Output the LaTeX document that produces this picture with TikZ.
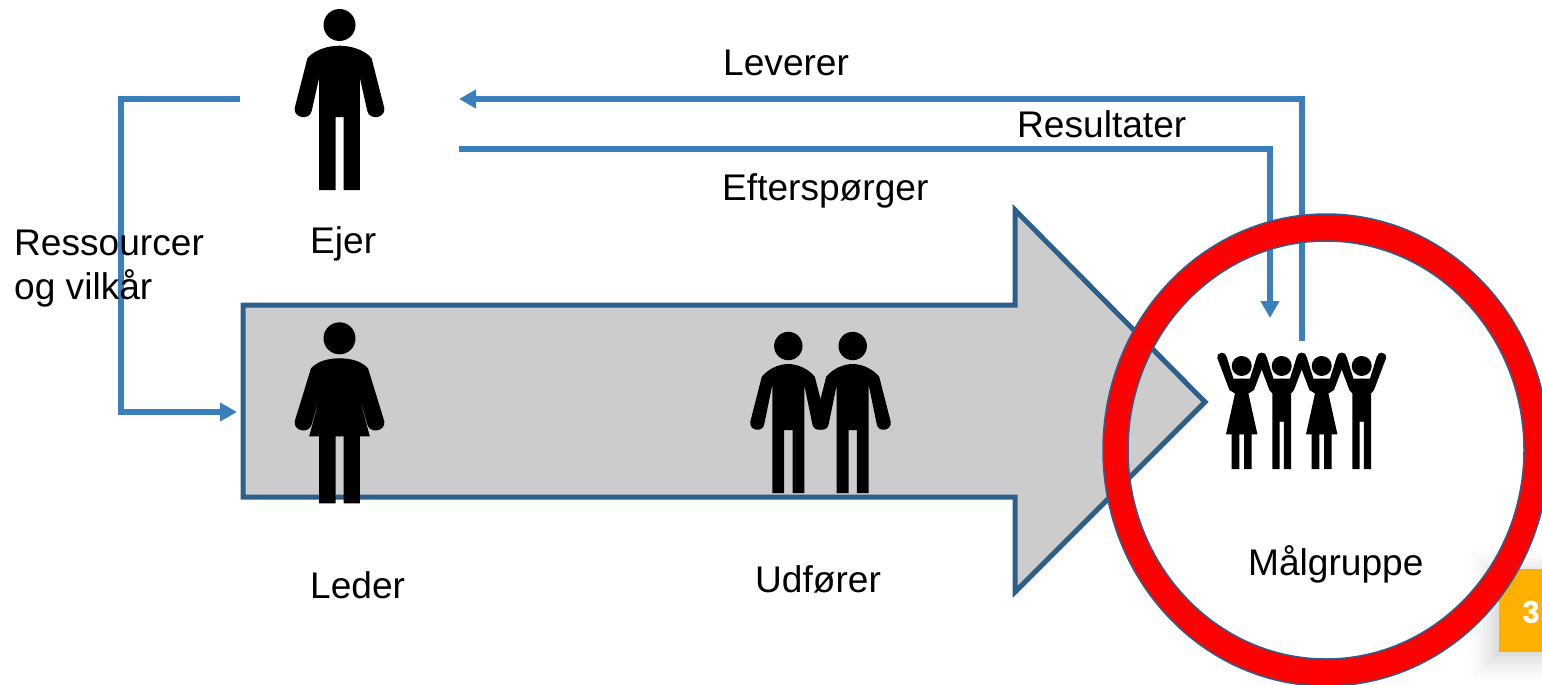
\documentclass[tikz,border=0pt]{standalone}
\usepackage{fontspec}
\setmainfont{Liberation Sans}
\newfontfamily\badgefont{Poppins}
\usetikzlibrary{arrows.meta}
\definecolor{linkblue}{HTML}{3A7FBD}
\definecolor{edgeblue}{HTML}{2C5F8A}
\definecolor{badge}{HTML}{FFB000}
\tikzset{
  x=1pt,y=-1pt,
  link/.style={draw=linkblue,line width=5.5pt,line join=miter},
  linkhead/.style={link,-{Triangle[length=17pt,width=18pt]}},
  label/.style={anchor=base west,inner sep=0pt,font=\fontsize{37.1}{44}\selectfont},
  figure/.style={fill=black,draw=none},
  pics/man/.style={code={
    \fill[figure] (0,0) circle[radius=16pt];
    \foreach \s in {1,-1}{\begin{scope}[xscale=\s]
      \fill[figure] (0.5,20.7) .. controls (-12,20.7) and (-25,25) .. (-32,33) -- (-44.8,83)
        .. controls (-46.5,93) and (-30,96) .. (-27.8,86) -- (-20.4,53) -- (-20.4,165) -- (-4,165) -- (-4,92) -- (0.5,92) -- cycle;
    \end{scope}}
  }},
  pics/woman/.style={code={
    \fill[figure] (0,0) circle[radius=16pt];
    \foreach \s in {1,-1}{\begin{scope}[xscale=\s]
      \fill[figure] (0.5,20) .. controls (-12,20) and (-22,23) .. (-28.5,30) -- (-44.8,83)
        .. controls (-46.5,93) and (-30,96) .. (-27.8,86) -- (-16,45) -- (-30.3,98) -- (-20.4,98) -- (-20.4,165) -- (-4,165) -- (-4,98) -- (0.5,98) -- cycle;
    \end{scope}}
  }},
  pics/partner/.style={code={
    \fill[figure] (0,0) circle[radius=14.2pt];
    \foreach \s in {1,-1}{\begin{scope}[xscale=\s]
      \fill[figure] (0.5,18) .. controls (-10,18) and (-20,23) .. (-26.5,30.7) -- (-38,75.7)
        .. controls (-39.5,85) and (-25,87) .. (-24,78) -- (-16,39) -- (-16,147) -- (-4.2,147) -- (-4.2,84) -- (0.5,84) -- cycle;
    \end{scope}}
  }},
  pics/cheerwoman/.style={code={
    \fill[figure] (0,0) circle[radius=10pt];
    \foreach \s in {1,-1}{\begin{scope}[xscale=\s]
      \fill[figure] (0.5,12.5) -- (-8.3,12.5) -- (-15,-9) .. controls (-16,-15) and (-25,-15) .. (-24.3,-7.7)
        -- (-12.3,24) -- (-6.7,27.5) -- (-15.7,68.3) -- (-10,68.3) -- (-10,103) -- (-2.3,103) -- (-2.3,68.3) -- (0.5,68.3) -- cycle;
    \end{scope}}
  }},
  pics/cheerman/.style={code={
    \fill[figure] (0,0) circle[radius=10pt];
    \foreach \s in {1,-1}{\begin{scope}[xscale=\s]
      \fill[figure] (0.5,12.5) -- (-8.3,12.5) -- (-15,-9) .. controls (-16,-15) and (-25,-15) .. (-24.3,-7.7)
        -- (-12.3,24) -- (-9.3,27.5) -- (-9.3,103) -- (-2.2,103) -- (-2.2,55.7) -- (0.5,55.7) -- cycle;
    \end{scope}}
  }}
}
\begin{document}
\begin{tikzpicture}
\clip (0,0) rectangle (1542,685);
% big arrow
\draw[edgeblue,fill=black!20,line width=5pt,miter limit=10]
  (243,305) -- (1015,305) -- (1015,210) -- (1205,402) -- (1015,592) -- (1015,497) -- (243,497) -- cycle;
% free ends of the connectors
\coordinate (ownerW) at (240,99);
\coordinate (leftT) at (121,99);
\coordinate (leftB) at (121,412);
\coordinate (leaderW) at (237,412);
\coordinate (groupUp) at (1302,341);
\coordinate (upT) at (1302,99);
\coordinate (ownerE1) at (459,99);
\coordinate (ownerE2) at (459,149);
\coordinate (downT) at (1270,149);
\coordinate (groupIn) at (1270,318);
\draw[linkhead] (ownerW) -- (leftT) -- (leftB) -- (leaderW);
\draw[linkhead] (groupUp) -- (upT) -- (ownerE1);
\draw[linkhead] (ownerE2) -- (downT) -- (groupIn);
% page badge with soft shadow
\foreach \d/\o in {28/.012,24/.012,20/.015,16/.018,12/.02,8/.025,4/.03}{
  \fill[black,opacity=\o] (1499-\d,569+10-\d) rectangle (1560,652+\d);
}
\fill[badge] (1499,569) rectangle (1560,652);
\node[anchor=base west,inner sep=0pt,text=white,font=\badgefont\bfseries\fontsize{30}{36}\selectfont] (page) at (1522,623) {3};
% ring
\path[fill=red,draw=edgeblue,line width=1.5pt,even odd rule]
  (1326,450) ellipse[x radius=223pt,y radius=236pt]
  (1326,450) ellipse[x radius=198pt,y radius=209pt];
% figures
\pic (ejer) at (339.5,25) {man};
\pic (leder) at (339.5,338.3) {woman};
\pic (udf1) at (788.3,346) {partner};
\pic (udf2) at (852.7,346) {partner};
\pic (mg1) at (1241.7,366) {cheerwoman};
\pic (mg2) at (1281.7,366) {cheerman};
\pic (mg3) at (1321.7,366) {cheerwoman};
\pic (mg4) at (1361.7,366) {cheerman};
% labels
\node[label] (leverer) at (723,75) {Leverer};
\node[label] (resultater) at (1017,137) {Resultater};
\node[label] (efter) at (722,200) {Efterspørger};
\node[label] (ejertxt) at (310,253) {Ejer};
\node[label] (res1) at (14,255) {Ressourcer};
\node[label] (res2) at (14,299) {og vilkår};
\node[label] (ledertxt) at (310,598) {Leder};
\node[label] (udfoerer) at (755,592) {Udfører};
\node[label] (maal) at (1248,575) {Målgruppe};
\end{tikzpicture}
\end{document}
